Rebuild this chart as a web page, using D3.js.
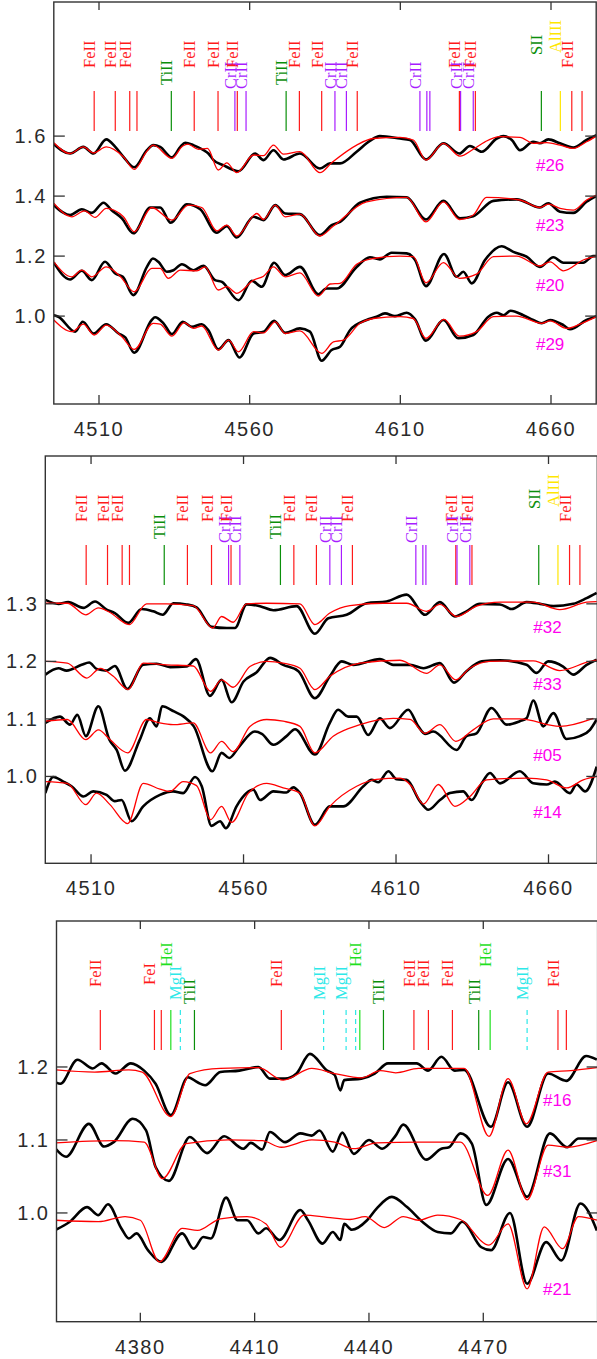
<!DOCTYPE html>
<html>
<head>
<meta charset="utf-8">
<script src="https://cdn.jsdelivr.net/npm/d3@7"></script>
<style>
  body { margin: 0; background: #fff; }
  svg { display: block; }
</style>
</head>
<body>
<div id="chart"></div>
<script>
// ---- line identifications (wavelength, ion, labelled?) ----
const blueWaves = [4508.4, 4515.4, 4520.2, 4522.6, 4534.0, 4541.6, 4549.5, 4555.1, 4555.9, 4558.8,
  4572.1, 4576.5, 4583.9, 4588.3, 4592.1, 4595.7, 4616.5, 4618.8, 4619.8, 4629.6, 4630.0,
  4634.2, 4634.9, 4656.8, 4663.1, 4666.9, 4670.3];
const blueIons = ["FeII", "FeII", "FeII", "FeII", "TiII", "FeII", "FeII", "CrII", "FeII", "CrII",
  "TiII", "FeII", "FeII", "CrII", "CrII", "FeII", "CrII", "CrII", "CrII", "FeII", "CrII",
  "CrII", "FeII", "SII", "AlIII", "FeII", "FeII"];
const blueShown = [1, 1, 1, 0, 1, 1, 1, 1, 1, 1, 1, 1, 1, 1, 1, 1, 1, 0, 0, 1, 1, 1, 1, 1, 1, 1, 0];

const violetWaves = [4369.5, 4383.7, 4385.5, 4388.0, 4390.5, 4394.2, 4417.0, 4428.1, 4434.0, 4436.5,
  4437.6, 4443.8, 4451.8, 4455.6, 4461.9, 4468.8, 4471.8, 4481.5, 4489.6, 4491.8];
const violetIons = ["FeII", "FeI", "FeII", "HeI", "MgII", "TiII", "FeII", "MgII", "MgII", "MgII",
  "HeI", "TiII", "FeII", "FeII", "FeII", "TiII", "HeI", "MgII", "FeII", "FeII"];
const violetShown = [1, 1, 0, 1, 1, 1, 1, 1, 1, 0, 1, 1, 1, 1, 1, 1, 1, 1, 1, 0];

// ---- spectra: [wavelength, normalised flux]; black = observed, red = model ----
const obs26 = [[4495,0.973],[4500.4,0.942],[4504.8,0.964],[4508.2,0.942],[4512.4,0.989],[4515.4,0.964],[4518.1,0.931],[4521.7,0.896],[4525.9,0.953],[4528,0.970],[4530.3,0.964],[4534.2,0.929],[4537,0.964],[4538.6,0.978],[4541.3,0.970],[4544.7,0.953],[4546.3,0.942],[4548,0.920],[4551.3,0.903],[4554.6,0.887],[4556.3,0.883],[4561.8,0.942],[4564.6,0.920],[4567.9,0.953],[4571.2,0.922],[4576.7,0.942],[4583.3,0.892],[4586.7,0.909],[4590,0.909],[4595.5,0.948],[4599.9,0.984],[4603.2,1.000],[4609.9,0.992],[4613.2,0.987],[4618.5,0.922],[4624.3,0.976],[4629.6,0.942],[4633.1,0.967],[4637,0.948],[4642,0.992],[4644.2,1.000],[4647,0.987],[4649.7,0.953],[4654.1,0.981],[4656.3,0.976],[4659.1,0.989],[4663,0.976],[4667.4,0.962],[4671.8,0.987],[4675.1,1.003]];
const mod26 = [[4495,0.978],[4500.4,0.942],[4504.8,0.964],[4508.2,0.944],[4512.4,0.964],[4518.1,0.931],[4521.7,0.889],[4525.9,0.950],[4528,0.970],[4534.2,0.926],[4537.8,0.967],[4539.5,0.973],[4543,0.956],[4546,0.959],[4549.6,0.887],[4552.4,0.911],[4555.7,0.878],[4561.3,0.937],[4564.6,0.935],[4567.9,0.970],[4571.2,0.940],[4576.7,0.948],[4583.3,0.878],[4587.2,0.911],[4595.5,0.970],[4601,0.992],[4609.9,0.996],[4614.3,0.987],[4618.5,0.920],[4624.3,0.976],[4629.8,0.933],[4634.2,0.956],[4638.1,0.981],[4643,0.998],[4649.7,0.996],[4654.1,0.976],[4658.6,0.978],[4663,0.970],[4667.4,0.959],[4671.8,0.981],[4675.1,1.000]];
const obs23 = [[4495,0.970],[4500.4,0.937],[4504.3,0.956],[4507.6,0.944],[4511.5,0.978],[4514.2,0.953],[4517.6,0.926],[4521.4,0.876],[4527,0.962],[4530.3,0.962],[4533.8,0.911],[4539.1,0.973],[4543.6,0.956],[4549.1,0.878],[4552.4,0.900],[4555.7,0.862],[4561.3,0.931],[4564.6,0.920],[4568.5,0.970],[4571.8,0.942],[4576.7,0.940],[4583.3,0.870],[4587.2,0.903],[4590,0.914],[4596.6,0.978],[4605.5,0.998],[4612.1,0.996],[4618.5,0.922],[4624.3,0.984],[4629.8,0.926],[4634.2,0.933],[4640.9,0.984],[4648.6,0.989],[4656.3,0.962],[4659.1,0.976],[4663,0.948],[4667.4,0.944],[4671.8,0.981],[4675.1,1.000]];
const mod23 = [[4495,0.976],[4501,0.931],[4505.2,0.951],[4508.7,0.929],[4512.4,0.959],[4518.1,0.931],[4521.7,0.881],[4527.5,0.962],[4534.2,0.920],[4539.7,0.970],[4544.1,0.962],[4549.1,0.884],[4552.4,0.903],[4555.7,0.867],[4562.4,0.942],[4564.6,0.922],[4568.5,0.970],[4571.8,0.931],[4576.7,0.940],[4583.3,0.867],[4587.8,0.900],[4598.8,0.981],[4612.1,0.996],[4618.5,0.914],[4624.3,0.981],[4629.6,0.922],[4634.2,0.937],[4638.6,0.996],[4649.7,0.987],[4656.3,0.962],[4659.1,0.973],[4663,0.959],[4667.4,0.953],[4671.8,0.987],[4675.1,1.003]];
const obs20 = [[4495,0.978],[4500.4,0.922],[4504.3,0.951],[4507.6,0.920],[4512,0.981],[4515.4,0.942],[4517.9,0.931],[4521.4,0.870],[4525.9,0.964],[4527.9,0.992],[4529.7,0.981],[4532.5,0.948],[4534.7,0.953],[4537.5,0.973],[4541.4,0.953],[4544.7,0.968],[4548.5,0.920],[4550.8,0.914],[4556.3,0.853],[4560.7,0.918],[4564,0.898],[4568.1,0.978],[4571.8,0.937],[4576.7,0.964],[4582.8,0.873],[4585.5,0.892],[4588.9,0.892],[4595.5,0.964],[4599.9,0.996],[4603.2,0.989],[4607.1,1.011],[4612.1,1.009],[4614.9,0.987],[4618.5,0.900],[4624.5,1.007],[4628.7,0.931],[4630.9,0.948],[4633.7,0.909],[4638.1,0.987],[4643.6,1.033],[4647.5,1.014],[4651.9,0.998],[4656.3,0.964],[4660.8,0.996],[4664.1,0.978],[4670.7,0.978],[4674,1.000],[4675.5,1.000]];
const mod20 = [[4495,0.981],[4501,0.931],[4504.3,0.953],[4507.6,0.931],[4512.4,0.964],[4517,0.933],[4521.7,0.881],[4527.5,0.959],[4530.3,0.959],[4533,0.926],[4537,0.953],[4542.5,0.951],[4545.2,0.964],[4549.6,0.887],[4552.4,0.898],[4555.7,0.876],[4561.3,0.920],[4564.6,0.933],[4567.9,0.964],[4571.8,0.931],[4576.7,0.944],[4582.8,0.867],[4586.7,0.907],[4590,0.909],[4595.5,0.973],[4601,0.992],[4609.9,1.000],[4614.3,0.998],[4618.5,0.911],[4624.3,0.978],[4629.6,0.926],[4635.3,0.940],[4640.9,0.998],[4648.6,1.000],[4656.3,0.967],[4659.7,0.981],[4664.1,0.951],[4670.7,0.987],[4675.1,1.000]];
const obs29 = [[4495,1.003],[4496.5,0.998],[4502.1,0.948],[4504.6,0.981],[4508.2,0.942],[4512.4,0.973],[4516.5,0.942],[4518.7,0.929],[4521.7,0.878],[4527.5,0.987],[4528.6,0.996],[4531.4,0.976],[4534.2,0.940],[4537.8,0.981],[4540.8,0.964],[4544.1,0.973],[4546.3,0.953],[4549.6,0.889],[4553,0.920],[4556.6,0.862],[4561.3,0.942],[4564.6,0.948],[4568.1,0.984],[4571.8,0.944],[4576.7,0.959],[4580,0.948],[4583.9,0.851],[4587.2,0.887],[4590,0.898],[4593.3,0.953],[4598.8,0.987],[4602.1,0.998],[4604.9,1.009],[4608.2,1.000],[4612.1,1.011],[4614.9,0.989],[4618.5,0.918],[4624.3,0.987],[4629.2,0.926],[4634.2,0.937],[4639.2,0.998],[4642,1.011],[4644.2,1.003],[4646.6,1.018],[4650.8,1.003],[4654.1,0.987],[4656.9,0.976],[4659.7,0.987],[4664.1,0.970],[4666.3,0.956],[4671.8,0.987],[4675.1,1.000]];
const mod29 = [[4495,0.987],[4501,0.948],[4504.8,0.973],[4508.4,0.937],[4512.4,0.970],[4517.6,0.931],[4521.7,0.889],[4528,0.976],[4530.3,0.973],[4534.2,0.933],[4538.3,0.978],[4541.4,0.959],[4544.1,0.967],[4549.6,0.887],[4553,0.920],[4556.3,0.881],[4561.3,0.948],[4564.6,0.944],[4568.5,0.981],[4571.8,0.942],[4576.7,0.951],[4583.9,0.876],[4587.8,0.914],[4591.1,0.920],[4596.6,0.976],[4601,0.992],[4609.9,0.998],[4614.3,0.992],[4618.5,0.926],[4624.5,0.989],[4629.6,0.933],[4635.3,0.948],[4640.9,0.998],[4648.6,1.000],[4656.9,0.976],[4659.7,0.984],[4665.2,0.959],[4669.6,0.973],[4675.1,0.998]];

const obs32 = [[4495,1.007],[4499.3,1.000],[4502.5,1.003],[4507.5,0.993],[4511.3,1.004],[4515.1,0.990],[4517.8,0.984],[4522.2,0.967],[4526.6,0.991],[4530.4,0.987],[4533.5,0.981],[4537,1.001],[4541.3,0.999],[4544.6,0.994],[4549.5,0.960],[4554.5,0.958],[4557.2,0.958],[4561,0.999],[4565.4,0.996],[4569.8,0.989],[4577.4,0.996],[4583.4,0.948],[4587.8,0.975],[4593.8,0.981],[4600.4,1.001],[4606.9,1.004],[4613.5,1.016],[4619.5,0.981],[4624.4,1.003],[4629.3,0.978],[4633.1,0.987],[4637.5,1.000],[4644.1,0.999],[4647.9,0.991],[4652.8,1.003],[4657.2,1.000],[4661.6,0.996],[4668.1,1.000],[4672.5,1.010],[4675.8,1.019]];
const mod32 = [[4495,1.001],[4502.2,1.001],[4508.3,0.981],[4512.4,0.993],[4516.2,0.985],[4522.5,0.964],[4528.2,1.000],[4534.8,1.000],[4543.5,0.997],[4549.9,0.958],[4552.8,0.978],[4556.6,0.968],[4561,1.000],[4567.5,1.001],[4578.5,1.000],[4583.4,0.964],[4588.3,0.984],[4594.9,0.997],[4605.8,1.001],[4613.5,1.001],[4620,0.987],[4624.4,0.999],[4629.9,0.978],[4636.4,0.996],[4644.1,1.003],[4655,1.003],[4663.7,0.990],[4672.5,1.003],[4675.8,1.004]];
const obs33 = [[4495,0.977],[4499.3,0.988],[4502,0.984],[4506.9,0.994],[4509.4,0.998],[4511.8,0.987],[4515.1,0.984],[4517.8,0.992],[4521.9,0.952],[4527.1,0.994],[4531.5,0.996],[4535.9,0.990],[4541.3,0.991],[4544.4,1.004],[4549,0.940],[4552.8,0.968],[4556.1,0.929],[4560,0.965],[4564.3,0.981],[4568.7,1.006],[4573,0.994],[4578,0.983],[4583.4,0.936],[4588.3,0.974],[4592.2,1.000],[4596,0.994],[4604.7,1.004],[4609.1,0.994],[4614.6,0.994],[4619,0.988],[4624.4,0.997],[4629,0.963],[4633.1,0.983],[4638.1,1.000],[4644.1,1.002],[4652.8,0.994],[4656.1,0.980],[4659.9,1.000],[4664.8,0.991],[4668.1,0.977],[4672.5,0.994],[4675.8,1.003]];
const mod33 = [[4495,1.000],[4502.2,0.997],[4508.6,0.971],[4513,0.988],[4517.3,0.974],[4522.2,0.951],[4527.1,0.997],[4534.8,0.994],[4543.5,0.992],[4549.2,0.948],[4552.8,0.968],[4556.6,0.955],[4562.1,0.991],[4567.6,1.000],[4573,0.997],[4578.5,0.988],[4583.4,0.951],[4588.3,0.974],[4598.2,0.997],[4611.3,1.002],[4620,0.979],[4624.4,0.994],[4629.6,0.968],[4634.2,0.988],[4640.8,1.000],[4655,1.001],[4663.7,0.984],[4673.6,1.000],[4675.8,1.002]];
const obs05 = [[4495,0.993],[4499.8,1.004],[4503.1,0.990],[4505.5,1.007],[4508.3,0.970],[4512.4,1.022],[4516,0.964],[4518.4,0.946],[4521.1,0.910],[4526,0.964],[4529.3,1.001],[4531.5,0.987],[4533.3,1.022],[4537.2,1.013],[4540.4,1.004],[4543.7,0.987],[4549.8,0.909],[4552.8,0.941],[4555.3,0.932],[4558.6,0.952],[4563.7,0.978],[4566,0.974],[4569.8,0.955],[4574.1,0.970],[4576.9,0.982],[4583.4,0.938],[4588.3,0.993],[4591,1.016],[4594.3,1.004],[4597.1,1.004],[4600.9,0.972],[4604.7,1.001],[4608,0.984],[4614,1.016],[4617.3,0.987],[4619.5,0.974],[4622.2,0.978],[4629.9,0.946],[4633.1,0.970],[4636.4,0.975],[4641.3,1.019],[4646.3,0.990],[4650.6,0.996],[4652.8,1.001],[4655,1.032],[4658.3,0.987],[4661.6,1.010],[4665.9,0.965],[4670.3,0.970],[4673.6,0.981],[4675.8,0.999]];
const mod05 = [[4495,0.996],[4502.2,0.999],[4508.3,0.964],[4512.4,0.981],[4516.2,0.964],[4522,0.941],[4528.2,0.999],[4532.5,0.993],[4536.9,0.990],[4543.5,0.993],[4549.2,0.941],[4552.8,0.961],[4556.6,0.943],[4562.1,0.987],[4567.6,0.999],[4573,0.996],[4578.5,0.987],[4583.4,0.941],[4589.4,0.970],[4598.2,0.990],[4609.1,1.001],[4614.6,0.999],[4619.5,0.975],[4624.4,0.990],[4629.6,0.961],[4635.3,0.981],[4641.9,1.000],[4650.6,1.000],[4663.7,0.987],[4674.7,1.001]];
const obs14 = [[4495,0.971],[4497.6,0.999],[4500.9,0.991],[4503.6,0.983],[4507.5,0.965],[4510.7,0.974],[4515.1,0.968],[4517.8,0.957],[4520,0.959],[4523.3,0.922],[4527.1,0.948],[4532.6,0.968],[4536.9,0.974],[4540.2,0.971],[4544.1,0.999],[4546.3,0.983],[4549.5,0.914],[4552.3,0.922],[4554.2,0.910],[4557.7,0.948],[4561,0.971],[4563.2,0.977],[4565.4,0.959],[4569.8,0.974],[4574.1,0.972],[4576.3,0.981],[4578.5,0.971],[4583.4,0.916],[4588.3,0.948],[4592.7,0.948],[4599.3,0.983],[4602,0.994],[4604.2,0.990],[4607.5,1.009],[4610.2,0.995],[4613.5,0.994],[4617.8,0.957],[4620.6,0.942],[4624.4,0.959],[4627.7,0.971],[4632,0.974],[4634.8,0.959],[4638.1,0.988],[4640.8,1.006],[4644.1,0.988],[4650.6,1.009],[4655,0.988],[4659.4,0.986],[4662.1,0.991],[4667,0.971],[4669.2,0.986],[4672,0.974],[4675.8,1.017]];
const mod14 = [[4495,0.991],[4502.2,0.988],[4508.3,0.951],[4511.8,0.971],[4516.2,0.951],[4522,0.918],[4527.1,0.988],[4532.6,0.978],[4535.9,0.974],[4540.2,0.991],[4544.6,0.984],[4549.2,0.925],[4552.8,0.948],[4556.1,0.920],[4561.6,0.971],[4567.6,0.988],[4573,0.980],[4578.5,0.971],[4583.4,0.914],[4588.3,0.948],[4597.1,0.983],[4603.6,0.995],[4611.3,0.997],[4615.1,0.983],[4619,0.952],[4623.9,0.986],[4629.3,0.948],[4634.2,0.965],[4639.7,0.994],[4652.8,0.997],[4659.4,0.994],[4665.9,0.980],[4671.4,0.994],[4675.8,1.000]];

const obs16 = [[4357.8,0.979],[4359,0.977],[4363.5,1.010],[4367.5,0.998],[4369.8,1.005],[4373.5,0.991],[4377.5,1.005],[4381,0.995],[4384,0.977],[4388,0.934],[4392.5,0.986],[4395,0.979],[4397,0.975],[4401,0.993],[4406,0.995],[4411,1.000],[4414,0.984],[4418,0.984],[4421,0.991],[4424.5,1.018],[4429,0.995],[4431,0.989],[4432.5,0.968],[4433.5,0.982],[4438,0.984],[4441.5,0.991],[4445,1.005],[4452.5,1.005],[4455.5,0.995],[4459,1.014],[4462.5,0.995],[4465,0.996],[4472,0.918],[4476.5,0.979],[4481.5,0.918],[4487,0.991],[4491.8,0.981],[4497,1.015],[4499.8,1.010]];
const mod16 = [[4357.8,0.996],[4368,0.993],[4377,0.996],[4380.5,0.993],[4388,0.932],[4393,0.991],[4401,0.998],[4411,0.999],[4417.5,0.982],[4425,0.998],[4431,0.991],[4438,0.985],[4443,0.995],[4447,0.992],[4453,0.998],[4465,0.998],[4471.5,0.905],[4476.5,0.984],[4481.3,0.922],[4487,0.993],[4493,0.995],[4499.8,0.999]];
const obs31 = [[4357.8,0.988],[4360.5,0.977],[4366.5,1.022],[4370.5,0.991],[4373,0.997],[4378,1.029],[4381.5,1.013],[4384,0.963],[4387.5,0.944],[4393,1.004],[4397.5,0.982],[4402,1.005],[4407,0.988],[4409,0.996],[4412,0.987],[4414,1.011],[4418,0.997],[4422,1.009],[4425,1.006],[4427,1.013],[4430.5,0.984],[4433,1.010],[4436,0.981],[4440,1.000],[4443.5,0.988],[4447,1.006],[4449,1.021],[4455,0.973],[4459,0.988],[4461,0.990],[4464,1.009],[4467,0.995],[4470.8,0.911],[4476.5,0.974],[4481.5,0.922],[4487.5,1.009],[4492,0.990],[4495,1.002],[4499.8,1.002]];
const mod31 = [[4357.8,0.996],[4373,0.999],[4381,0.997],[4385.8,0.947],[4392,0.995],[4403,1.000],[4412,0.999],[4417,0.990],[4425,1.000],[4431,0.997],[4436,0.988],[4442,0.996],[4453,0.997],[4464,0.997],[4471.2,0.924],[4476.5,0.986],[4481.5,0.918],[4487,0.993],[4492,0.990],[4499.8,0.999]];
const obs21 = [[4357.8,0.977],[4361.5,0.988],[4366,1.008],[4369,0.997],[4371.5,1.012],[4375,0.979],[4377,0.965],[4379,0.972],[4382,0.949],[4385.5,0.933],[4391,0.972],[4394,0.951],[4396.5,0.967],[4398.5,0.965],[4402.5,1.021],[4405.5,0.990],[4408,0.990],[4411,0.972],[4413,0.979],[4416.5,0.963],[4422,1.004],[4424,0.990],[4427.8,0.958],[4430.5,0.974],[4432.5,0.963],[4433.5,0.985],[4435.5,0.977],[4439.5,0.990],[4442,1.006],[4446,1.022],[4450,1.008],[4454,0.988],[4458,0.974],[4461.5,0.972],[4464.5,0.988],[4469.5,0.953],[4472,0.949],[4477,1.000],[4481.5,0.903],[4486.5,0.960],[4490.5,0.935],[4495.5,1.013],[4499.8,0.976]];
const mod21 = [[4357.8,0.990],[4369,0.988],[4376,0.995],[4380,0.990],[4385,0.933],[4391,0.979],[4395,0.976],[4401,0.992],[4408,0.995],[4413,0.985],[4416.8,0.953],[4423,0.997],[4429,0.994],[4435,0.991],[4439,0.995],[4444,0.980],[4449,0.995],[4453,0.990],[4458,0.997],[4464,0.991],[4471.5,0.956],[4476.5,0.985],[4481.5,0.896],[4486,0.981],[4490.8,0.951],[4495,0.995],[4499.8,0.990]];

const blueTicks = [4510, 4560, 4610, 4660];
const violetTicks = [4380, 4410, 4440, 4470];

// style per ion: colour and where the label text ends below the frame top
const ionStyle = {
  FeII:  {color: "#ff1a1a", end: 66},
  FeI:   {color: "#ff1a1a", end: 64},
  TiII:  {color: "#0a8f0a", end: 83},
  CrII:  {color: "#a81cff", end: 87},
  SII:   {color: "#0a8f0a", end: 53},
  AlIII: {color: "#ffe600", end: 51},
  HeI:   {color: "#1fe01f", end: 46},
  MgII:  {color: "#2de8e8", end: 79, dash: "5,4"}
};

const panels = [
  {left: 53.8, right: 596.2, top: 2, bottom: 404, xd: [4495, 4675], yd: [0.707, 2.047],
   xt: blueTicks, yt: [1.0, 1.2, 1.4, 1.6], fmt: ".1f",
   waves: blueWaves, ions: blueIons, shown: blueShown, tagX: 4655,
   stars: [
     {name: "#26", off: 0.6, obs: obs26, mod: mod26, tag: 0.885},
     {name: "#23", off: 0.4, obs: obs23, mod: mod23, tag: 0.885},
     {name: "#20", off: 0.2, obs: obs20, mod: mod20, tag: 0.885},
     {name: "#29", off: 0.0, obs: obs29, mod: mod29, tag: 0.887}]},
  {left: 45.3, right: 597.3, top: 456, bottom: 863.3, xd: [4495, 4676], yd: [0.849, 1.557],
   xt: blueTicks, yt: [1.0, 1.1, 1.2, 1.3], fmt: ".1f",
   waves: blueWaves, ions: blueIons, shown: blueShown, tagX: 4655,
   stars: [
     {name: "#32", off: 0.3, obs: obs32, mod: mod32, tag: 0.95},
     {name: "#33", off: 0.2, obs: obs33, mod: mod33, tag: 0.951},
     {name: "#05", off: 0.1, obs: obs05, mod: mod05, tag: 0.926},
     {name: "#14", off: 0.0, obs: obs14, mod: mod14, tag: 0.928}]},
  {left: 56.5, right: 597.6, top: 921, bottom: 1321.7, xd: [4358, 4500], yd: [0.851, 1.4],
   xt: violetTicks, yt: [1.0, 1.1, 1.2], fmt: ".1f",
   waves: violetWaves, ions: violetIons, shown: violetShown, tagX: 4485.7,
   stars: [
     {name: "#16", off: 0.2, obs: obs16, mod: mod16, tag: 0.947},
     {name: "#31", off: 0.1, obs: obs31, mod: mod31, tag: 0.949},
     {name: "#21", off: 0.0, obs: obs21, mod: mod21, tag: 0.887}]}
];

const svg = d3.select("#chart").append("svg")
  .attr("width", 597).attr("height", 1359);

const axisColor = "#333";

panels.forEach((p, pi) => {
  const x = d3.scaleLinear().domain(p.xd).range([p.left, p.right]);
  const y = d3.scaleLinear().domain(p.yd).range([p.bottom, p.top]);
  const g = svg.append("g");

  svg.append("clipPath").attr("id", "clip" + pi)
    .append("rect")
    .attr("x", p.left).attr("y", p.top)
    .attr("width", p.right - p.left).attr("height", p.bottom - p.top);

  // line identification marks
  p.waves.forEach((w, i) => {
    const st = ionStyle[p.ions[i]];
    g.append("line")
      .attr("x1", x(w)).attr("x2", x(w))
      .attr("y1", p.top + 89).attr("y2", p.top + 129)
      .attr("stroke", st.color).attr("stroke-width", 1.2)
      .attr("stroke-dasharray", st.dash || null);
    if (p.shown[i]) {
      g.append("text")
        .attr("transform", `translate(${x(w) + 1},${p.top + st.end}) rotate(-90)`)
        .attr("fill", st.color)
        .attr("font-family", "'Liberation Serif', 'DejaVu Serif', serif")
        .attr("font-size", 16.5)
        .text(p.ions[i]);
    }
  });

  // spectra
  const line = d3.line()
    .x(d => x(d[0]))
    .curve(d3.curveMonotoneX);
  const plot = g.append("g").attr("clip-path", `url(#clip${pi})`);
  p.stars.forEach(s => {
    plot.append("path")
      .attr("d", line.y(d => y(d[1] + s.off))(s.obs))
      .attr("fill", "none").attr("stroke", "#000").attr("stroke-width", 2.6)
      .attr("stroke-linejoin", "round");
  });
  p.stars.forEach(s => {
    plot.append("path")
      .attr("d", line.y(d => y(d[1] + s.off))(s.mod))
      .attr("fill", "none").attr("stroke", "#ff0000").attr("stroke-width", 1.3);
  });
  p.stars.forEach(s => {
    g.append("text")
      .attr("x", x(p.tagX)).attr("y", y(s.off + s.tag))
      .attr("fill", "#ff00ee")
      .attr("font-family", "'Liberation Sans', Arial, sans-serif")
      .attr("font-size", 17)
      .text(s.name);
  });

  // frame
  g.append("rect")
    .attr("x", p.left).attr("y", p.top)
    .attr("width", p.right - p.left).attr("height", p.bottom - p.top)
    .attr("fill", "none").attr("stroke", axisColor).attr("stroke-width", 1.4);

  // ticks on all four sides
  p.xt.forEach(t => {
    g.append("line").attr("x1", x(t)).attr("x2", x(t))
      .attr("y1", p.bottom).attr("y2", p.bottom - 9)
      .attr("stroke", axisColor).attr("stroke-width", 1.3);
    g.append("line").attr("x1", x(t)).attr("x2", x(t))
      .attr("y1", p.top).attr("y2", p.top + 8)
      .attr("stroke", axisColor).attr("stroke-width", 1.3);
    g.append("text")
      .attr("x", x(t)).attr("y", p.bottom + 32)
      .attr("text-anchor", "middle")
      .attr("fill", "#2a2a2a")
      .attr("font-family", "'Liberation Sans', Arial, sans-serif")
      .attr("font-size", 20).attr("letter-spacing", 1.5)
      .text(t);
  });
  p.yt.forEach(t => {
    g.append("line").attr("x1", p.left).attr("x2", p.left + 11)
      .attr("y1", y(t)).attr("y2", y(t))
      .attr("stroke", axisColor).attr("stroke-width", 1.3);
    g.append("line").attr("x1", p.right).attr("x2", p.right - 11)
      .attr("y1", y(t)).attr("y2", y(t))
      .attr("stroke", axisColor).attr("stroke-width", 1.3);
    g.append("text")
      .attr("x", p.left - 7).attr("y", y(t) + 7)
      .attr("text-anchor", "end")
      .attr("fill", "#2a2a2a")
      .attr("font-family", "'Liberation Sans', Arial, sans-serif")
      .attr("font-size", 20).attr("letter-spacing", 1.5)
      .text(d3.format(p.fmt)(t));
  });
});
</script>
</body>
</html>
